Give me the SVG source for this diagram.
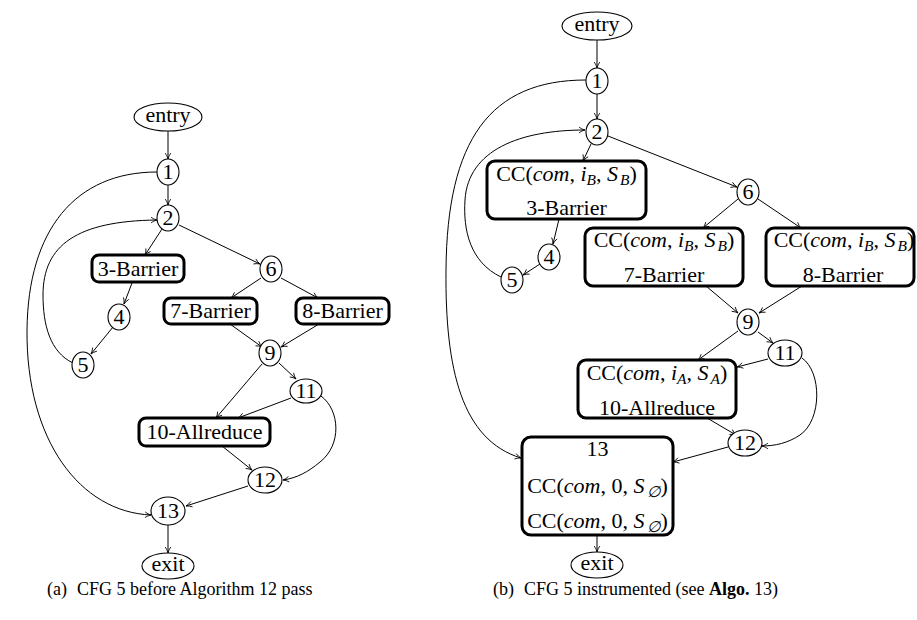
<svg xmlns="http://www.w3.org/2000/svg" width="917" height="620" viewBox="0 0 917 620">
<defs>
<marker id="a" viewBox="0 0 10 10" refX="9.5" refY="5" markerWidth="7" markerHeight="7" markerUnits="userSpaceOnUse" orient="auto">
<path d="M1,1 Q5,4 9.5,5 Q5,6 1,9" fill="none" stroke="#000" stroke-width="1.2"/>
</marker>
</defs>
<style>
.t{font-family:"Liberation Serif","DejaVu Serif",serif;font-size:22px;fill:#000;text-anchor:middle}
.i{font-style:italic}
.s{font-style:italic;font-size:15.5px}
.o{fill:#fff;stroke:#000;stroke-width:1.1}
.b{fill:#fff;stroke:#000;stroke-width:3}
.e{fill:none;stroke:#000;stroke-width:1;marker-end:url(#a)}
.c{font-family:"Liberation Serif","DejaVu Serif",serif;font-size:18px;fill:#000}
</style>
<rect width="917" height="620" fill="#fff"/>

<g id="edges-a">
<path class="e" d="M168,131 L168,159"/>
<path class="e" d="M168,185 L168,205"/>
<path class="e" d="M162,229 L145,255"/>
<path class="e" d="M179,225 L260,264"/>
<path class="e" d="M132,283 L124,304"/>
<path class="e" d="M113,327 L91,354"/>
<path class="e" d="M73,363 C50,352 43,325 43,295 C43,245 77,221 157,220"/>
<path class="e" d="M157,172 C75,172 28,230 27,330 C26,440 80,512 151,515"/>
<path class="e" d="M261,278 L231,298"/>
<path class="e" d="M281,278 L318,298"/>
<path class="e" d="M230,324 L262,347"/>
<path class="e" d="M319,324 L281,347"/>
<path class="e" d="M262,364 L216,418"/>
<path class="e" d="M279,363 L296,379"/>
<path class="e" d="M291,398 L238,418"/>
<path class="e" d="M222,446 L252,470"/>
<path class="e" d="M321,396 C340,410 342,445 320,462 C308,472 297,478 283,480"/>
<path class="e" d="M248,486 L186,506"/>
<path class="e" d="M168,525 L168,553"/>
</g>

<g id="a-entry"><ellipse class="o" cx="168" cy="117" rx="34" ry="14"/><text class="t" x="168" y="122">entry</text></g>
<g id="a-n1"><ellipse class="o" cx="168" cy="172" rx="11" ry="13"/><text class="t" x="168" y="179">1</text></g>
<g id="a-n2"><ellipse class="o" cx="168" cy="218" rx="11" ry="13"/><text class="t" x="168" y="225">2</text></g>
<g id="a-n3"><rect class="b" x="92" y="255" width="92" height="27" rx="7"/><text class="t" x="138" y="276">3-Barrier</text></g>
<g id="a-n4"><ellipse class="o" cx="119" cy="317" rx="11" ry="13"/><text class="t" x="119" y="324">4</text></g>
<g id="a-n5"><ellipse class="o" cx="83" cy="365" rx="11" ry="13"/><text class="t" x="83" y="372">5</text></g>
<g id="a-n6"><ellipse class="o" cx="271" cy="269" rx="11" ry="13"/><text class="t" x="271" y="276">6</text></g>
<g id="a-n7"><rect class="b" x="164" y="298" width="93" height="26" rx="7"/><text class="t" x="210.5" y="318">7-Barrier</text></g>
<g id="a-n8"><rect class="b" x="296" y="298" width="93" height="26" rx="7"/><text class="t" x="342.5" y="318">8-Barrier</text></g>
<g id="a-n9"><ellipse class="o" cx="270" cy="353" rx="11" ry="13"/><text class="t" x="270" y="360">9</text></g>
<g id="a-n11"><ellipse class="o" cx="306" cy="391" rx="16" ry="12"/><text class="t" x="306" y="398">11</text></g>
<g id="a-n10"><rect class="b" x="139" y="418" width="131" height="28" rx="7"/><text class="t" x="204.5" y="439">10-Allreduce</text></g>
<g id="a-n12"><ellipse class="o" cx="265" cy="480" rx="17" ry="13"/><text class="t" x="265" y="487">12</text></g>
<g id="a-n13"><ellipse class="o" cx="168" cy="511" rx="17" ry="14"/><text class="t" x="168" y="518">13</text></g>
<g id="a-exit"><ellipse class="o" cx="168" cy="566" rx="26" ry="13"/><text class="t" x="168" y="571">exit</text></g>

<g id="edges-b">
<path class="e" d="M597,40 L597,68"/>
<path class="e" d="M597,94 L597,119"/>
<path class="e" d="M591,144 L583,161"/>
<path class="e" d="M608,136 L737,187"/>
<path class="e" d="M559,219 L553,244"/>
<path class="e" d="M540,264 L523,275"/>
<path class="e" d="M501,277 C470,262 463,230 465,200 C468,150 520,130 585,130"/>
<path class="e" d="M586,80 C490,80 447,140 446,270 C445,370 462,440 521,458"/>
<path class="e" d="M738,199 L703,228"/>
<path class="e" d="M758,199 L801,228"/>
<path class="e" d="M706,286 L738,313"/>
<path class="e" d="M802,286 L759,313"/>
<path class="e" d="M738,331 L698,360"/>
<path class="e" d="M758,332 L773,343"/>
<path class="e" d="M768,359 L737,367"/>
<path class="e" d="M707,418 L736,435"/>
<path class="e" d="M802,358 C822,372 822,420 800,435 C788,443 775,446 762,446"/>
<path class="e" d="M728,447 L673,462"/>
<path class="e" d="M597,535 L597,552"/>
</g>

<g id="b-entry"><ellipse class="o" cx="597" cy="26" rx="35" ry="14"/><text class="t" x="597" y="31">entry</text></g>
<g id="b-n1"><ellipse class="o" cx="597" cy="81" rx="11" ry="13"/><text class="t" x="597" y="88">1</text></g>
<g id="b-n2"><ellipse class="o" cx="597" cy="132" rx="11" ry="13"/><text class="t" x="597" y="139">2</text></g>
<g id="b-n3"><rect class="b" x="487" y="161" width="159" height="58" rx="8"/>
<text class="t" x="566.5" y="181">CC(<tspan class="i">com</tspan>, <tspan class="i">i</tspan><tspan class="s" dy="4">B</tspan><tspan dy="-4">, </tspan><tspan class="i">S</tspan><tspan class="s" dx="2" dy="4">B</tspan><tspan dy="-4">)</tspan></text>
<text class="t" x="566.5" y="215">3-Barrier</text></g>
<g id="b-n4"><ellipse class="o" cx="549" cy="257" rx="11" ry="13"/><text class="t" x="549" y="264">4</text></g>
<g id="b-n5"><ellipse class="o" cx="512" cy="280" rx="11" ry="13"/><text class="t" x="512" y="287">5</text></g>
<g id="b-n6"><ellipse class="o" cx="748" cy="192" rx="11" ry="13"/><text class="t" x="748" y="199">6</text></g>
<g id="b-n7"><rect class="b" x="585" y="228" width="158" height="58" rx="8"/>
<text class="t" x="664" y="247">CC(<tspan class="i">com</tspan>, <tspan class="i">i</tspan><tspan class="s" dy="4">B</tspan><tspan dy="-4">, </tspan><tspan class="i">S</tspan><tspan class="s" dx="2" dy="4">B</tspan><tspan dy="-4">)</tspan></text>
<text class="t" x="664" y="282">7-Barrier</text></g>
<g id="b-n8"><rect class="b" x="766" y="228" width="148" height="58" rx="8"/>
<text class="t" x="844" y="247">CC(<tspan class="i">com</tspan>, <tspan class="i">i</tspan><tspan class="s" dy="4">B</tspan><tspan dy="-4">, </tspan><tspan class="i">S</tspan><tspan class="s" dx="2" dy="4">B</tspan><tspan dy="-4">)</tspan></text>
<text class="t" x="843" y="282">8-Barrier</text></g>
<g id="b-n9"><ellipse class="o" cx="748" cy="322" rx="11" ry="13"/><text class="t" x="748" y="329">9</text></g>
<g id="b-n11"><ellipse class="o" cx="785" cy="353" rx="17" ry="13"/><text class="t" x="785" y="360">11</text></g>
<g id="b-n10"><rect class="b" x="578" y="360" width="158" height="58" rx="8"/>
<text class="t" x="657" y="380">CC(<tspan class="i">com</tspan>, <tspan class="i">i</tspan><tspan class="s" dy="4">A</tspan><tspan dy="-4">, </tspan><tspan class="i">S</tspan><tspan class="s" dx="2" dy="4">A</tspan><tspan dy="-4">)</tspan></text>
<text class="t" x="657" y="415">10-Allreduce</text></g>
<g id="b-n12"><ellipse class="o" cx="745" cy="443" rx="17" ry="13"/><text class="t" x="745" y="450">12</text></g>
<g id="b-n13"><rect class="b" x="522" y="437" width="151" height="98" rx="9"/>
<text class="t" x="597.5" y="456">13</text>
<text class="t" x="597.5" y="493">CC(<tspan class="i">com</tspan>, 0, <tspan class="i">S</tspan><tspan class="s" dx="2" dy="4">∅</tspan><tspan dy="-4">)</tspan></text>
<text class="t" x="597.5" y="528">CC(<tspan class="i">com</tspan>, 0, <tspan class="i">S</tspan><tspan class="s" dx="2" dy="4">∅</tspan><tspan dy="-4">)</tspan></text></g>
<g id="b-exit"><ellipse class="o" cx="597" cy="565" rx="26" ry="13"/><text class="t" x="597" y="570">exit</text></g>

<g id="captions">
<text class="c" x="47" y="595">(a)<tspan dx="10">CFG 5 before Algorithm 12 pass</tspan></text>
<text class="c" x="493" y="595">(b)<tspan dx="10">CFG 5 instrumented (see </tspan><tspan font-weight="bold">Algo.</tspan> 13)</text>
</g>
</svg>
